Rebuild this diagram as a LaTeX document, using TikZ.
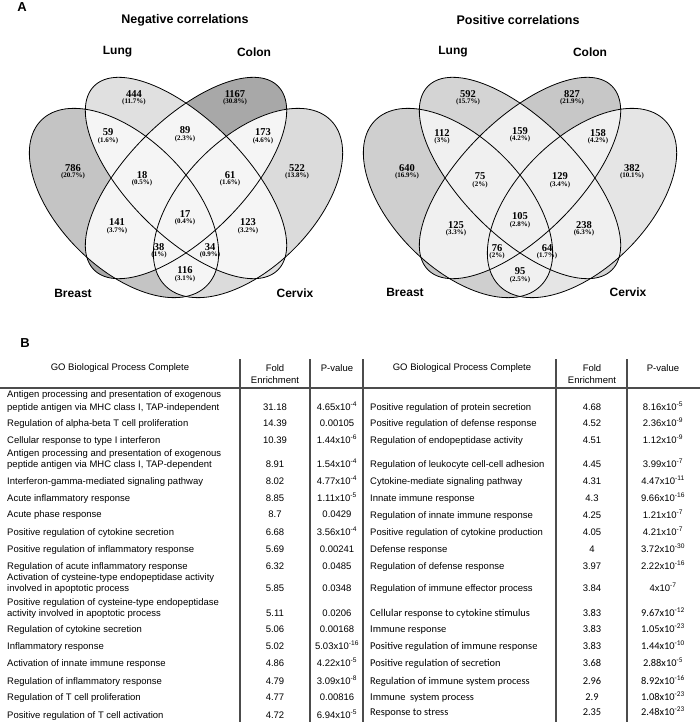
\documentclass[tikz,border=0pt]{standalone}
\usepackage{fontspec}
\setmainfont{Liberation Serif}
\newfontfamily\arial{Liberation Sans}
\newfontfamily\calib{Carlito}
\newcommand\vB[1]{\path[rotate around={-45:(124,-203)},#1] (124,-203) ellipse [x radius=117,y radius=65];}
\newcommand\vX[1]{\path[rotate around={45:(248,-203)},#1] (248,-203) ellipse [x radius=117,y radius=65];}
\newcommand\vL[1]{\path[rotate around={-45:(186,-178)},#1] (186,-178) ellipse [x radius=130,y radius=58];}
\newcommand\vC[1]{\path[rotate around={45:(186,-178)},#1] (186,-178) ellipse [x radius=130,y radius=58];}
\newcommand\vennbody[5]{%
 \vB{fill=#5}\vL{fill=#5}\vC{fill=#5}\vX{fill=#5}%
 \begin{scope}\vB{clip}\vB{fill=#1}\vL{fill=#5}\vC{fill=#5}\vX{fill=#5}\end{scope}%
 \begin{scope}\vL{clip}\vL{fill=#2}\vB{fill=#5}\vC{fill=#5}\vX{fill=#5}\end{scope}%
 \begin{scope}\vC{clip}\vC{fill=#3}\vB{fill=#5}\vL{fill=#5}\vX{fill=#5}\end{scope}%
 \begin{scope}\vX{clip}\vX{fill=#4}\vB{fill=#5}\vL{fill=#5}\vC{fill=#5}\end{scope}%
 \vB{outline}\vL{outline}\vC{outline}\vX{outline}}
\newcommand\vl[5]{\node[vnum] (#1) at (#2,-#3) {#4}; \node[vpct] (#1p) at (#2,{-#3-8.3}) {(#5)};}
\newcommand\pv[2]{#1x10\textsuperscript{-#2}}
\newcommand\lrow[5]{%
 \node[tcell] (#1) at (7,{-(#2+3.5)}) {#3};
 \node[tval] (#1f) at (275,{-(#2+3.5)}) {#4};
 \node[tval] (#1p) at (337,{-(#2+3.5)}) {#5};}
\newcommand\lline[3]{\node[tcell] (#1) at (7,{-(#2+3.5)}) {#3};}
\newcommand\rrow[6]{%
 \node[tcell,#6] (#1) at (370,{-(#2+3.5)}) {#3};
 \node[tval,#6] (#1f) at (592,{-(#2+3.5)}) {#4};
 \node[tval,#6] (#1p) at (663,{-(#2+3.5)}) {#5};}
\tikzset{
 vnum/.style={font=\fontsize{10.5}{12}\selectfont\bfseries, inner sep=0},
 vpct/.style={font=\fontsize{7}{8}\selectfont\bfseries, inner sep=0},
 vset/.style={font=\arial\fontsize{12}{14}\selectfont\bfseries, inner sep=0},
 vtitle/.style={font=\arial\fontsize{12.5}{14}\selectfont\bfseries, inner sep=0},
 panel/.style={font=\arial\fontsize{13}{15}\selectfont\bfseries, inner sep=0},
 tcell/.style={font=\arial\fontsize{9.5}{12}\selectfont, inner sep=0, anchor=base west},
 tval/.style={font=\arial\fontsize{9.5}{12}\selectfont, inner sep=0, anchor=base},
 cal/.style={font=\calib\fontsize{10.4}{12}\selectfont},
 ar/.style={},
 thead/.style={font=\arial\fontsize{9.5}{12}\selectfont, inner sep=0, align=center},
 tline/.style={draw=black!70, line width=1.1pt},
 outline/.style={draw=black, line width=0.8pt},
}
\begin{document}
\begin{tikzpicture}[x=1pt,y=1pt]
\useasboundingbox[fill=white] (0,0) rectangle (700,-722);
% ---------- panel A ----------
\node[panel] (pA) at (22,-7) {A};
\node[vtitle] (t1) at (185,-20) {Negative correlations};
\node[vtitle] (t2) at (518,-20) {Positive correlations};
\vennbody{black!23}{black!12}{black!34}{black!14}{black!4}
\begin{scope}[xshift=334pt]
\vennbody{black!19}{black!17}{black!22}{black!10}{black!6}
\end{scope}
\node[vset] (sL1) at (117.5,-52) {Lung};
\node[vset] (sC1) at (254,-52) {Colon};
\node[vset] (sB1) at (73,-293) {Breast};
\node[vset] (sX1) at (295,-293) {Cervix};
\node[vset] (sL2) at (453,-52) {Lung};
\node[vset] (sC2) at (590,-52) {Colon};
\node[vset] (sB2) at (405,-292) {Breast};
\node[vset] (sX2) at (628,-292) {Cervix};
% left numbers
\vl{n1}{134}{94}{444}{11.7\%}
\vl{n2}{235}{94}{1167}{30.8\%}
\vl{n3}{108}{132.5}{59}{1.6\%}
\vl{n4}{185}{130.5}{89}{2.3\%}
\vl{n5}{263}{132.5}{173}{4.6\%}
\vl{n6}{73}{168}{786}{20.7\%}
\vl{n7}{142}{175}{18}{0.5\%}
\vl{n8}{230}{175}{61}{1.6\%}
\vl{n9}{297}{168}{522}{13.8\%}
\vl{n10}{185}{214}{17}{0.4\%}
\vl{n11}{117}{222.5}{141}{3.7\%}
\vl{n12}{248}{222.5}{123}{3.2\%}
\vl{n13}{159}{247}{38}{1\%}
\vl{n14}{210}{247}{34}{0.9\%}
\vl{n15}{185}{270.5}{116}{3.1\%}
% right numbers
\vl{m1}{468}{94}{592}{15.7\%}
\vl{m2}{572}{94}{827}{21.9\%}
\vl{m3}{442}{133}{112}{3\%}
\vl{m4}{520}{131}{159}{4.2\%}
\vl{m5}{598}{133}{158}{4.2\%}
\vl{m6}{407}{168}{640}{16.9\%}
\vl{m7}{480}{176.5}{75}{2\%}
\vl{m8}{560}{176.5}{129}{3.4\%}
\vl{m9}{632}{168}{382}{10.1\%}
\vl{m10}{520}{216.5}{105}{2.8\%}
\vl{m11}{456}{225}{125}{3.3\%}
\vl{m12}{584}{225}{238}{6.3\%}
\vl{m13}{497}{248}{76}{2\%}
\vl{m14}{547}{248}{64}{1.7\%}
\vl{m15}{520}{271.5}{95}{2.5\%}
% ---------- panel B ----------
\node[panel] (pB) at (25,-343) {B};
\node[thead] (h1) at (120,-368) {GO Biological Process Complete};
\node[thead] (h2) at (275,-374) {Fold\\Enrichment};
\node[thead] (h3) at (337,-368) {P-value};
\node[thead] (h4) at (462,-368) {GO Biological Process Complete};
\node[thead] (h5) at (592,-374) {Fold\\Enrichment};
\node[thead] (h6) at (663,-368) {P-value};
\coordinate (hl0) at (0,-388); \coordinate (hl1) at (700,-388);
\draw[tline] (hl0) -- (hl1);
\foreach \xx [count=\i] in {240,310,363,556,627}{
 \coordinate (vt\i) at (\xx,-359); \coordinate (vb\i) at (\xx,-722);
 \draw[tline] (vt\i) -- (vb\i);}
% left table
\lline{l1a}{394}{Antigen processing and presentation of exogenous}
\lrow{l1}{407}{peptide antigen via MHC class I, TAP-independent}{31.18}{\pv{4.65}{4}}
\lrow{l2}{423}{Regulation of alpha-beta T cell proliferation}{14.39}{0.00105}
\lrow{l3}{440}{Cellular response to type I interferon}{10.39}{\pv{1.44}{6}}
\lline{l4a}{453}{Antigen processing and presentation of exogenous}
\lrow{l4}{464}{peptide antigen via MHC class I, TAP-dependent}{8.91}{\pv{1.54}{4}}
\lrow{l5}{481}{Interferon-gamma-mediated signaling pathway}{8.02}{\pv{4.77}{4}}
\lrow{l6}{498}{Acute inflammatory response}{8.85}{\pv{1.11}{5}}
\lrow{l7}{514}{Acute phase response}{8.7}{0.0429}
\lrow{l8}{532}{Positive regulation of cytokine secretion}{6.68}{\pv{3.56}{4}}
\lrow{l9}{549}{Positive regulation of inflammatory response}{5.69}{0.00241}
\lrow{l10}{566}{Regulation of acute inflammatory response}{6.32}{0.0485}
\lline{l11a}{577}{Activation of cysteine-type endopeptidase activity}
\lrow{l11}{588}{involved in apoptotic process}{5.85}{0.0348}
\lline{l12a}{601.5}{Positive regulation of cysteine-type endopeptidase}
\lrow{l12}{613}{activity involved in apoptotic process}{5.11}{0.0206}
\lrow{l13}{629}{Regulation of cytokine secretion}{5.06}{0.00168}
\lrow{l14}{646}{Inflammatory response}{5.02}{\pv{5.03}{16}}
\lrow{l15}{663}{Activation of innate immune response}{4.86}{\pv{4.22}{5}}
\lrow{l16}{681}{Regulation of inflammatory response}{4.79}{\pv{3.09}{8}}
\lrow{l17}{697}{Regulation of T cell proliferation}{4.77}{0.00816}
\lrow{l18}{715}{Positive regulation of T cell activation}{4.72}{\pv{6.94}{5}}
% right table
\rrow{r1}{407}{Positive regulation of protein secretion}{4.68}{\pv{8.16}{5}}{ar}
\rrow{r2}{423}{Positive regulation of defense response}{4.52}{\pv{2.36}{9}}{ar}
\rrow{r3}{440}{Regulation of endopeptidase activity}{4.51}{\pv{1.12}{9}}{ar}
\rrow{r4}{464}{Regulation of leukocyte cell-cell adhesion}{4.45}{\pv{3.99}{7}}{ar}
\rrow{r5}{481}{Cytokine-mediate signaling pathway}{4.31}{\pv{4.47}{11}}{ar}
\rrow{r6}{498}{Innate immune response}{4.3}{\pv{9.66}{16}}{ar}
\rrow{r7}{515}{Regulation of innate immune response}{4.25}{\pv{1.21}{7}}{ar}
\rrow{r8}{532}{Positive regulation of cytokine production}{4.05}{\pv{4.21}{7}}{ar}
\rrow{r9}{549}{Defense response}{4}{\pv{3.72}{30}}{ar}
\rrow{r10}{566}{Regulation of defense response}{3.97}{\pv{2.22}{16}}{ar}
\rrow{r11}{588}{Regulation of immune effector process}{3.84}{4x10\textsuperscript{-7}}{ar}
\rrow{r12}{613}{Cellular response to cytokine stimulus}{3.83}{\pv{9.67}{12}}{cal}
\rrow{r13}{629}{Immune response}{3.83}{\pv{1.05}{23}}{cal}
\rrow{r14}{646}{Positive regulation of immune response}{3.83}{\pv{1.44}{10}}{cal}
\rrow{r15}{663}{Positive regulation of secretion}{3.68}{\pv{2.88}{5}}{cal}
\rrow{r16}{681}{Regulation of immune system process}{2.96}{\pv{8.92}{16}}{cal}
\rrow{r17}{697}{Immune\ \ system process}{2.9}{\pv{1.08}{23}}{cal}
\rrow{r18}{712}{Response to stress}{2.35}{\pv{2.48}{23}}{cal}
\end{tikzpicture}
\end{document}
